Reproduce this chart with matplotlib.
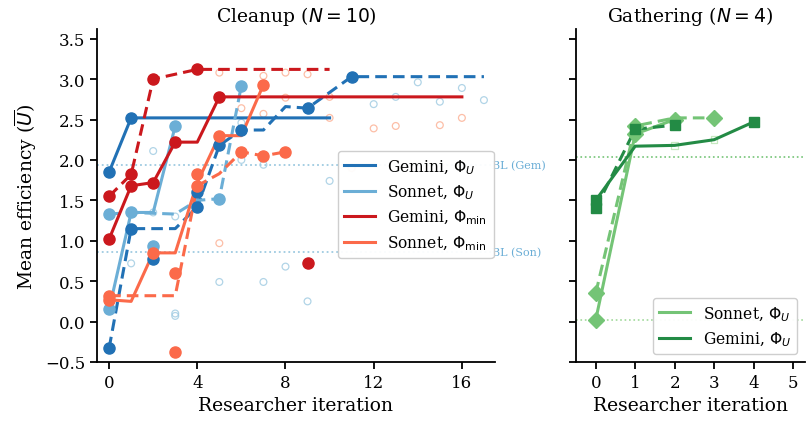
import numpy as np
import matplotlib
matplotlib.use("Agg")
import matplotlib.pyplot as plt

plt.rcParams['font.family'] = 'serif'
plt.rcParams['font.serif'] = ['DejaVu Serif']

# colours
C_GEM_U = '#2171b5'
C_SON_U = '#6baed6'
C_GEM_MIN = '#cb181d'
C_SON_MIN = '#fb6a4a'
C_GRN_SON = '#74c476'
C_GRN_GEM = '#238b45'

# ---- Cleanup data (best-so-far lines, evaluated points) ----
gem_u_solid_x = [0, 1, 10]
gem_u_solid_y = [1.85, 2.52, 2.52]
gem_u_dash_x = [0, 1, 3, 4, 5, 6, 7, 8, 9, 11, 17]
gem_u_dash_y = [-0.33, 1.15, 1.15, 1.42, 2.18, 2.37, 2.37, 2.66, 2.64, 3.03, 3.03]
gem_u_pts_x = [0, 1, 0, 1, 2, 4, 4, 5, 6, 9, 11]
gem_u_pts_y = [1.85, 2.52, -0.33, 1.15, 0.77, 1.42, 1.60, 2.18, 2.37, 2.64, 3.03]

son_u_solid_x = [0, 1, 2, 3]
son_u_solid_y = [0.15, 1.35, 1.35, 2.42]
son_u_dash_x = [0, 1, 3, 4, 5, 6]
son_u_dash_y = [1.33, 1.35, 1.33, 1.50, 1.52, 2.92]
son_u_pts_x = [0, 0, 1, 2, 3, 5, 6]
son_u_pts_y = [0.15, 1.33, 1.35, 0.94, 2.42, 1.52, 2.92]

gem_min_solid_x = [0, 1, 2, 3, 4, 5, 16]
gem_min_solid_y = [1.02, 1.68, 1.72, 2.22, 2.22, 2.78, 2.78]
gem_min_dash_x = [0, 1, 2, 4, 10]
gem_min_dash_y = [1.55, 1.82, 3.00, 3.12, 3.12]
gem_min_pts_x = [0, 1, 2, 3, 5, 0, 1, 2, 4, 9]
gem_min_pts_y = [1.02, 1.68, 1.72, 2.22, 2.78, 1.55, 1.82, 3.00, 3.12, 0.73]

son_min_solid_x = [0, 1, 2, 3, 4, 5, 6, 7]
son_min_solid_y = [0.27, 0.25, 0.85, 0.85, 1.72, 2.30, 2.30, 2.93]
son_min_dash_x = [0, 3, 4, 5, 6, 7, 8]
son_min_dash_y = [0.32, 0.32, 1.68, 1.83, 2.10, 2.05, 2.10]
son_min_pts_x = [0, 0, 2, 3, 3, 4, 4, 5, 7, 6, 7, 8]
son_min_pts_y = [0.27, 0.32, 0.85, 0.60, -0.38, 1.82, 1.68, 2.30, 2.93, 2.10, 2.05, 2.10]

# non-improving attempts (hollow)
hollow_u_x = [1, 2, 2, 3, 3, 3, 5, 6, 6, 7, 7, 8, 9, 10, 12, 13, 14, 15, 16, 17]
hollow_u_y = [0.72, 2.11, 1.35, 1.30, 0.10, 0.07, 0.49, 2.46, 2.00, 1.94, 0.49, 0.68,
              0.25, 1.74, 2.69, 2.78, 2.96, 2.72, 2.89, 2.74]
hollow_min_x = [5, 5, 6, 6, 7, 7, 8, 8, 9, 10, 10, 11, 12, 13, 15, 16]
hollow_min_y = [3.08, 0.97, 2.64, 2.07, 3.04, 2.57, 3.08, 2.77, 3.06, 2.78, 2.52, 1.90,
                2.39, 2.42, 2.43, 2.52]

bl_gem = 1.94
bl_son = 0.86

# ---- Gathering data ----
g_son_solid_x = [0, 1, 2]
g_son_solid_y = [0.02, 2.32, 2.50]
g_son_dash_x = [0, 1, 2, 3]
g_son_dash_y = [0.35, 2.42, 2.52, 2.52]
g_son_pts_x = [0, 0, 1, 1, 2, 3]
g_son_pts_y = [0.02, 0.35, 2.32, 2.42, 2.50, 2.52]

g_gem_solid_x = [0, 1, 2, 3, 4]
g_gem_solid_y = [1.50, 2.17, 2.18, 2.25, 2.47]
g_gem_dash_x = [0, 1, 2]
g_gem_dash_y = [1.40, 2.38, 2.43]
g_gem_pts_x = [0, 4, 0, 1, 2]
g_gem_pts_y = [1.50, 2.47, 1.40, 2.38, 2.43]
g_gem_hollow_x = [2, 3]
g_gem_hollow_y = [2.18, 2.25]

g_bl_gem = 2.04
g_bl_son = 0.02

fig = plt.figure(figsize=(8.06, 4.27), dpi=100)
ax1 = fig.add_axes([0.1203, 0.1499, 0.4938, 0.7799])
ax2 = fig.add_axes([0.7146, 0.1499, 0.2841, 0.7799])

lw = 2.2
ms = 8

# baselines
ax1.plot([-0.55, 17.3], [bl_gem, bl_gem], ls=':', color='#9ecae1', lw=1.3, zorder=1)
ax1.plot([-0.55, 17.3], [bl_son, bl_son], ls=':', color='#9ecae1', lw=1.3, zorder=1)
ax1.text(17.35, bl_gem, 'BL (Gem)', color='#6baed6', fontsize=8, va='center', clip_on=False)
ax1.text(17.35, bl_son, 'BL (Son)', color='#6baed6', fontsize=8, va='center', clip_on=False)

ax1.scatter(hollow_u_x, hollow_u_y, s=24, facecolors='none', edgecolors='#9ecae1',
            linewidths=0.9, alpha=0.8, zorder=2)
ax1.scatter(hollow_min_x, hollow_min_y, s=24, facecolors='none', edgecolors='#fcae91',
            linewidths=0.9, alpha=0.8, zorder=2)

series = [
    (gem_u_solid_x, gem_u_solid_y, gem_u_dash_x, gem_u_dash_y, gem_u_pts_x, gem_u_pts_y, C_GEM_U, r'Gemini, $\Phi_U$'),
    (son_u_solid_x, son_u_solid_y, son_u_dash_x, son_u_dash_y, son_u_pts_x, son_u_pts_y, C_SON_U, r'Sonnet, $\Phi_U$'),
    (gem_min_solid_x, gem_min_solid_y, gem_min_dash_x, gem_min_dash_y, gem_min_pts_x, gem_min_pts_y, C_GEM_MIN, r'Gemini, $\Phi_{\min}$'),
    (son_min_solid_x, son_min_solid_y, son_min_dash_x, son_min_dash_y, son_min_pts_x, son_min_pts_y, C_SON_MIN, r'Sonnet, $\Phi_{\min}$'),
]
for sx, sy, dx, dy, px, py, c, lab in series:
    ax1.plot(sx, sy, color=c, lw=lw, label=lab, zorder=3)
    ax1.plot(dx, dy, color=c, lw=lw, ls=(0, (3.8, 2)), zorder=3)
    ax1.plot(px, py, 'o', color=c, ms=ms, ls='none', zorder=4)

ax1.set_xlim(-0.55, 17.5)
ax1.set_ylim(-0.5, 3.62)
ax1.set_xticks([0, 4, 8, 12, 16])
ax1.set_yticks(np.arange(-0.5, 3.51, 0.5))
ax1.set_yticklabels(['%.1f' % v if v >= 0 else '\u2212%.1f' % -v for v in np.arange(-0.5, 3.51, 0.5)])
ax1.set_xlabel('Researcher iteration', fontsize=13.5)
ax1.set_ylabel(r'Mean efficiency ($\overline{U}$)', fontsize=13.5)
ax1.set_title(r'Cleanup ($N = 10$)', fontsize=13.5)
ax1.legend(loc='upper left', bbox_to_anchor=(0.585, 0.657), fontsize=11.2, framealpha=0.95,
           handlelength=2.0, borderpad=0.4, labelspacing=0.45)

# ---- Gathering ----
ax2.axhline(g_bl_gem, ls=':', color='#74c476', lw=1.2, zorder=1)
ax2.axhline(g_bl_son, ls=':', color='#a1d99b', lw=1.2, zorder=1)
ax2.plot(g_son_solid_x, g_son_solid_y, color=C_GRN_SON, lw=lw, label=r'Sonnet, $\Phi_U$', zorder=3)
ax2.plot(g_son_dash_x, g_son_dash_y, color=C_GRN_SON, lw=lw, ls=(0, (3.8, 2)), zorder=3)
ax2.plot(g_son_pts_x, g_son_pts_y, 'D', color=C_GRN_SON, ms=8, ls='none', zorder=4)
ax2.plot(g_gem_solid_x, g_gem_solid_y, color=C_GRN_GEM, lw=lw, label=r'Gemini, $\Phi_U$', zorder=3)
ax2.plot(g_gem_dash_x, g_gem_dash_y, color=C_GRN_GEM, lw=lw, ls=(0, (3.8, 2)), zorder=3)
ax2.plot(g_gem_pts_x, g_gem_pts_y, 's', color=C_GRN_GEM, ms=7.5, ls='none', zorder=4)
ax2.scatter(g_gem_hollow_x, g_gem_hollow_y, s=22, marker='s', facecolors='none',
            edgecolors='#c7e9c0', linewidths=0.9, zorder=2)

ax2.set_xlim(-0.5, 5.3)
ax2.set_ylim(-0.5, 3.62)
ax2.set_xticks(range(6))
ax2.set_yticks(np.arange(-0.5, 3.51, 0.5))
ax2.set_yticklabels([])
ax2.set_xlabel('Researcher iteration', fontsize=13.5)
ax2.set_title(r'Gathering ($N = 4$)', fontsize=13.5)
ax2.legend(loc='lower right', fontsize=11.2, framealpha=0.95, handlelength=2.0,
           borderpad=0.4, labelspacing=0.45)

for ax in (ax1, ax2):
    ax.spines['top'].set_visible(False)
    ax.spines['right'].set_visible(False)
    ax.spines['left'].set_linewidth(1.3)
    ax.spines['bottom'].set_linewidth(1.3)
    ax.tick_params(labelsize=12, width=1.3, length=5)

fig.savefig('out.png', dpi=100)
